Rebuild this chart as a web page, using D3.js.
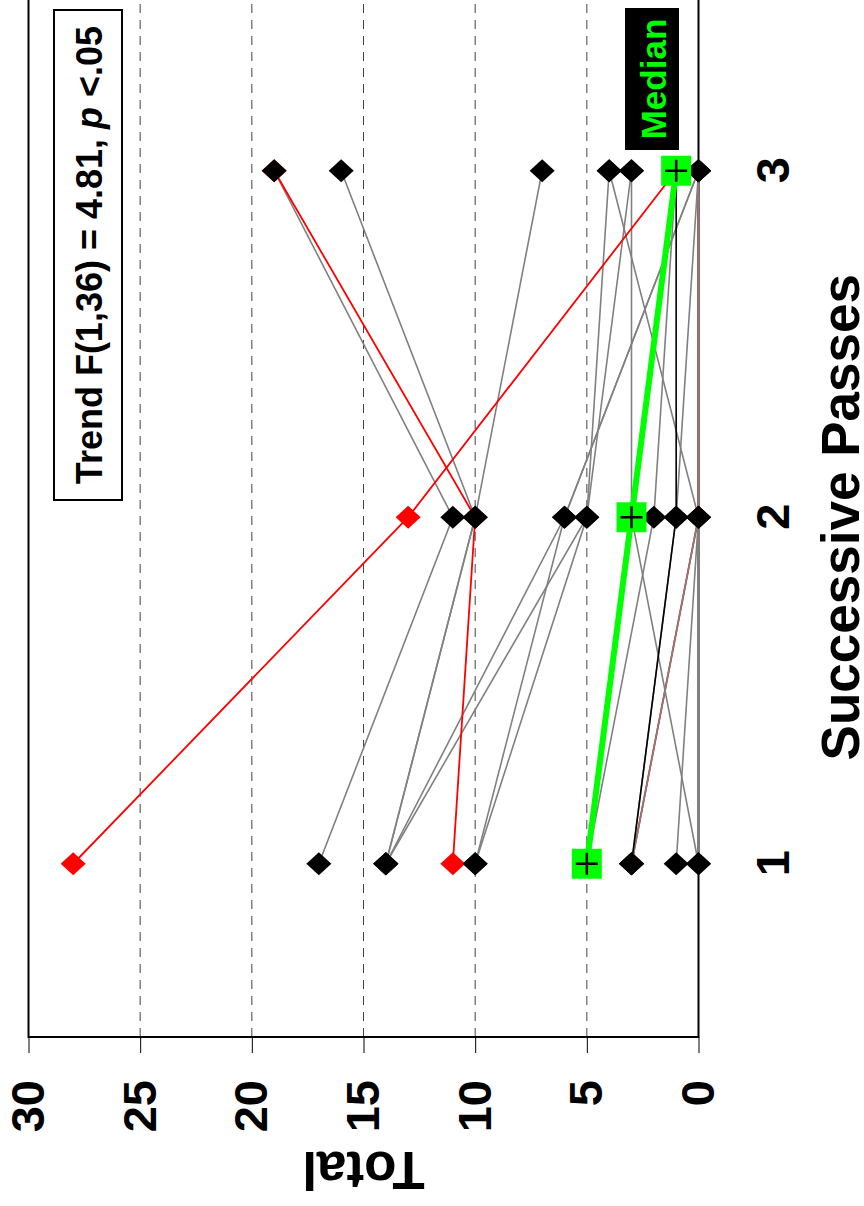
<!DOCTYPE html>
<html>
<head>
<meta charset="utf-8">
<script src="https://cdn.jsdelivr.net/npm/d3@7"></script>
<style>
  body { margin: 0; background: #fff; }
  svg { display: block; font-family: "Liberation Sans", Arial, sans-serif; font-weight: bold; }
</style>
</head>
<body>
<svg id="chart" width="864" height="1206"></svg>
<script>
const passes = [1, 2, 3];
const totalTicks = [0, 5, 10, 15, 20, 25, 30];
const gridValues = [5, 10, 15, 20, 25];

// one row per subject: totals at pass 1, 2, 3 (drawn in this order)
const subjectValues = [
  [3, 0, 0],
  [17, 11, 19],
  [14, 10, 16],
  [14, 10, 7],
  [14, 6, 0],
  [14, 5, 4],
  [10, 6, 0],
  [10, 5, 3],
  [5, 2, 1],
  [1, 0, 0],
  [0, 3, 3],
  [0, 0, 4],
  [3, 1, 0],
  [3, 0, 0],
  [28, 13, 1],
  [11, 10, 19],
  [3, 1, 1]
];
const subjectGroup = [
  'red', 'grey', 'grey', 'grey', 'grey', 'grey', 'grey', 'grey', 'grey',
  'grey', 'grey', 'grey', 'grey', 'grey', 'red', 'red', 'black'
];
const medianValues = [5, 3, 1];

const groupColor = {grey: '#808080', red: '#ff0000', black: '#000000'};

// chart is laid out unrotated (1206 wide, 864 tall) then turned a quarter left
const W = 1206;
const svg = d3.select('#chart');
const chart = svg.append('g').attr('transform', `translate(0,${W}) rotate(-90)`);

const x = d3.scaleLinear().domain([0.5, 3.5]).range([169, 1208.5]);
const y = d3.scaleLinear().domain([0, 30]).range([698.5, 28.5]);

// grid
chart.append('g')
  .selectAll('line')
  .data(gridValues)
  .enter()
    .append('line')
    .attr('x1', x(0.5))
    .attr('x2', x(3.5))
    .attr('y1', d => y(d))
    .attr('y2', d => y(d))
    .attr('stroke', '#444')
    .attr('stroke-width', 1)
    .attr('stroke-dasharray', '9,7');

// frame
chart.append('rect')
  .attr('x', x(0.5))
  .attr('y', y(30))
  .attr('width', x(3.5) - x(0.5))
  .attr('height', y(0) - y(30))
  .attr('fill', 'none')
  .attr('stroke', '#000')
  .attr('stroke-width', 2);

// value axis
const yAxis = chart.append('g')
  .attr('transform', `translate(${x(0.5)},0)`)
  .call(d3.axisLeft(y).tickValues(totalTicks).tickSize(16).tickPadding(27));
yAxis.select('.domain').remove();
yAxis.selectAll('.tick line').attr('stroke', '#000').attr('stroke-width', 1);
yAxis.selectAll('.tick text')
  .attr('fill', '#000')
  .style('font-size', '47px')
  .style('font-weight', 'bold')
  .style('font-family', '"Liberation Sans", Arial, sans-serif');

// pass axis
const xAxis = chart.append('g')
  .attr('transform', `translate(0,${y(0)})`)
  .call(d3.axisBottom(x).tickValues(passes).tickSize(0).tickPadding(57).tickFormat(d3.format('d')));
xAxis.select('.domain').remove();
xAxis.selectAll('.tick text')
  .attr('fill', '#000')
  .style('font-size', '47px')
  .style('font-weight', 'bold')
  .style('font-family', '"Liberation Sans", Arial, sans-serif');

// axis titles
chart.append('text')
  .attr('transform', `translate(54,${(y(0) + y(30)) / 2}) rotate(-90)`)
  .attr('text-anchor', 'middle')
  .style('font-size', '53px')
  .text('Total');

chart.append('text')
  .attr('x', x(2))
  .attr('y', 859)
  .attr('text-anchor', 'middle')
  .style('font-size', '53px')
  .text('Successive Passes');

// subject lines
const line = d3.line()
  .x((d, i) => x(passes[i]))
  .y(d => y(d));

chart.append('g')
  .selectAll('path')
  .data(subjectValues)
  .enter()
    .append('path')
    .attr('d', line)
    .attr('fill', 'none')
    .attr('stroke', (d, i) => groupColor[subjectGroup[i]])
    .attr('stroke-width', (d, i) => subjectGroup[i] === 'red' ? 1.8 : 1.6);

// diamonds, red first so black sits on top
const diamond = 'M0,-12.5L11.5,0L0,12.5L-11.5,0Z';
const points = [];
['red', 'grey', 'black'].forEach(g => {
  subjectValues.forEach((vals, i) => {
    if (subjectGroup[i] !== g) return;
    vals.forEach((v, j) => points.push({pass: passes[j], value: v, fill: g === 'red' ? '#ff0000' : '#000'}));
  });
});

chart.append('g')
  .selectAll('path')
  .data(points)
  .enter()
    .append('path')
    .attr('transform', d => `translate(${x(d.pass)},${y(d.value)})`)
    .attr('d', diamond)
    .attr('fill', d => d.fill);

// median
chart.append('path')
  .datum(medianValues)
  .attr('d', line)
  .attr('fill', 'none')
  .attr('stroke', '#00ff00')
  .attr('stroke-width', 6);

const med = chart.append('g')
  .selectAll('g')
  .data(medianValues)
  .enter()
    .append('g')
    .attr('transform', (d, i) => `translate(${x(passes[i])},${y(d)})`);
med.append('rect')
  .attr('x', -15).attr('y', -15)
  .attr('width', 30).attr('height', 30)
  .attr('fill', '#00ff00');
med.append('path')
  .attr('d', 'M-11,0H11M0,-11V11')
  .attr('stroke', '#000')
  .attr('stroke-width', 2.5);

// median label
chart.append('rect')
  .attr('x', 1056).attr('y', 625)
  .attr('width', 142).attr('height', 54)
  .attr('fill', '#000');
chart.append('text')
  .attr('x', 1127).attr('y', 666)
  .attr('text-anchor', 'middle')
  .attr('fill', '#00ff00')
  .style('font-size', '35px')
  .text('Median');

// trend box
chart.append('rect')
  .attr('x', 706).attr('y', 54)
  .attr('width', 490).attr('height', 68)
  .attr('fill', '#fff')
  .attr('stroke', '#000')
  .attr('stroke-width', 2);
const trend = chart.append('text')
  .attr('x', 951).attr('y', 102)
  .attr('text-anchor', 'middle')
  .style('font-size', '36px');
trend.append('tspan').text('Trend F(1,36) = 4.81, ');
trend.append('tspan').style('font-style', 'italic').text('p');
trend.append('tspan').text(' <.05');
</script>
</body>
</html>
